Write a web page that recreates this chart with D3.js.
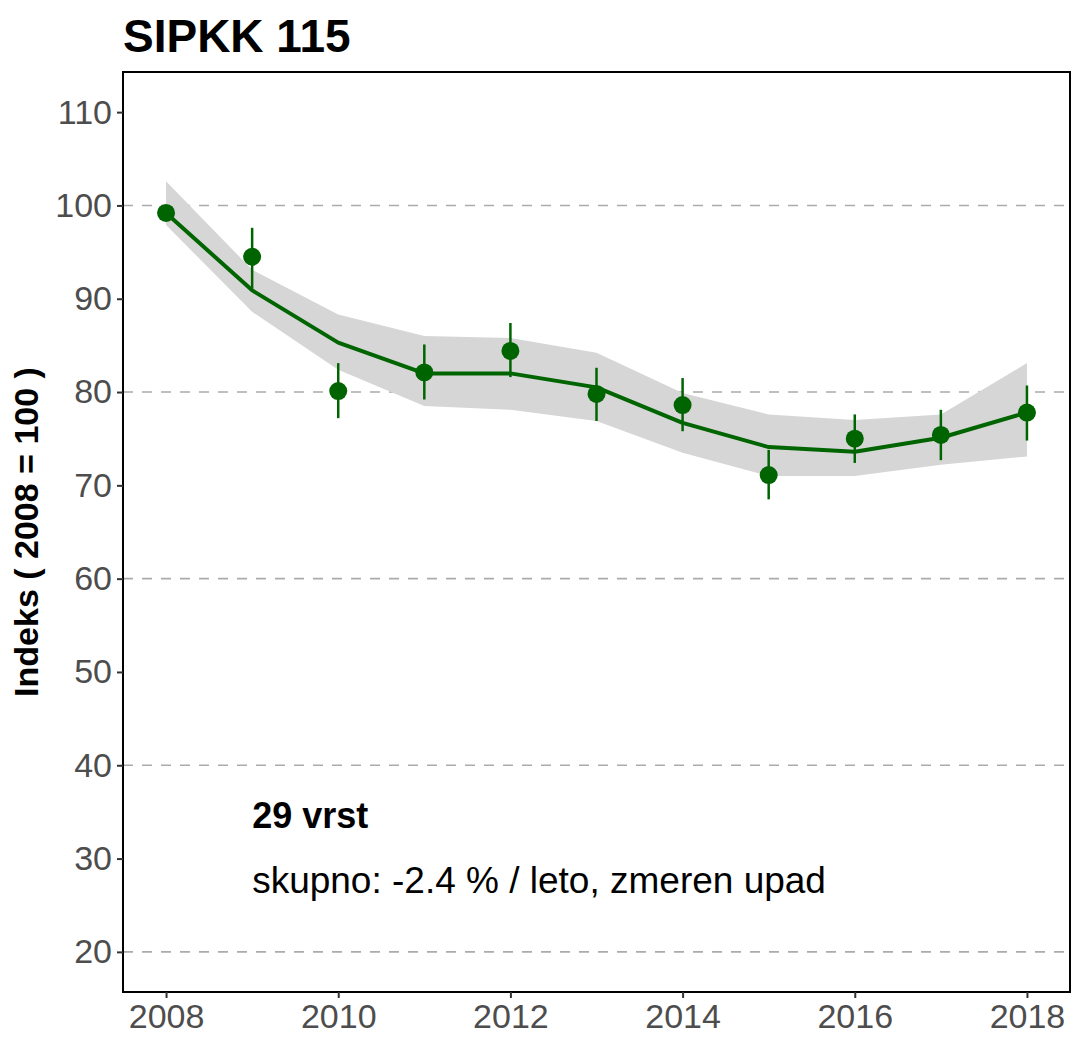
<!DOCTYPE html>
<html>
<head>
<meta charset="utf-8">
<script src="https://cdn.jsdelivr.net/npm/d3@7"></script>
<style>
  html, body { margin: 0; padding: 0; background: #fff; }
  svg { display: block; }
</style>
</head>
<body>
<svg id="chart" width="1074" height="1039"></svg>
<script>
// ---- data ----
const years = [2008, 2009, 2010, 2011, 2012, 2013, 2014, 2015, 2016, 2017, 2018];
const indexValues = [99.2, 94.5, 80.1, 82.1, 84.4, 79.8, 78.6, 71.1, 75.0, 75.4, 77.8];
const errLow  = [99.2, 91.1, 77.2, 79.2, 81.6, 76.9, 75.8, 68.5, 72.4, 72.7, 74.8];
const errHigh = [99.2, 97.6, 83.1, 85.1, 87.4, 82.6, 81.5, 73.8, 77.6, 78.1, 80.7];
const trendValues = [99.2, 90.9, 85.3, 82.0, 82.0, 80.5, 76.7, 74.1, 73.6, 75.1, 77.8];
const bandLow  = [97.9, 88.6, 82.4, 78.5, 78.1, 76.9, 73.5, 71.0, 71.0, 72.2, 73.1];
const bandHigh = [102.6, 93.1, 88.3, 86.0, 85.8, 84.2, 79.9, 77.6, 77.0, 77.6, 83.1];
const yTicks = [20, 30, 40, 50, 60, 70, 80, 90, 100, 110];
const gridValues = [20, 40, 60, 80, 100];
const xTicks = [2008, 2010, 2012, 2014, 2016, 2018];
const titleText = "SIPKK 115";
const yLabel = "Indeks ( 2008 = 100 )";
const noteBold = "29 vrst";
const noteText = "skupno: -2.4 % / leto, zmeren upad";

// ---- layout ----
const panel = { left: 123, top: 72, right: 1070, bottom: 992 };
const green = "#006400";
const font = "Liberation Sans, Arial, sans-serif";

const svg = d3.select("#chart");
const x = d3.scaleLinear().domain([2007.5, 2018.5]).range([panel.left, panel.right]);
const y = d3.scaleLinear().domain([15.7, 114.3]).range([panel.bottom, panel.top]);

const rows = years.map((yr, i) => ({
  year: yr, v: indexValues[i], lo: errLow[i], hi: errHigh[i],
  t: trendValues[i], bl: bandLow[i], bh: bandHigh[i]
}));

// gridlines
svg.append("g").selectAll("line").data(gridValues).join("line")
  .attr("x1", panel.left).attr("x2", panel.right)
  .attr("y1", d => y(d)).attr("y2", d => y(d))
  .attr("stroke", "#ababab").attr("stroke-width", 1.6)
  .attr("stroke-dasharray", "10,9");

// ribbon
svg.append("path").datum(rows)
  .attr("fill", "#d6d6d6")
  .attr("d", d3.area().x(d => x(d.year)).y0(d => y(d.bl)).y1(d => y(d.bh)));

// trend line
svg.append("path").datum(rows)
  .attr("fill", "none").attr("stroke", green).attr("stroke-width", 4)
  .attr("stroke-linejoin", "round")
  .attr("d", d3.line().x(d => x(d.year)).y(d => y(d.t)));

// error bars
svg.append("g").selectAll("line").data(rows).join("line")
  .attr("x1", d => x(d.year)).attr("x2", d => x(d.year))
  .attr("y1", d => y(d.lo)).attr("y2", d => y(d.hi))
  .attr("stroke", green).attr("stroke-width", 2.5);

// points
svg.append("g").selectAll("circle").data(rows).join("circle")
  .attr("cx", d => x(d.year)).attr("cy", d => y(d.v)).attr("r", 9)
  .attr("fill", green);

// panel border
svg.append("rect")
  .attr("x", panel.left).attr("y", panel.top)
  .attr("width", panel.right - panel.left).attr("height", panel.bottom - panel.top)
  .attr("fill", "none").attr("stroke", "#000").attr("stroke-width", 2);

// y axis
const yAxis = svg.append("g").attr("transform", `translate(${panel.left},0)`)
  .call(d3.axisLeft(y).tickValues(yTicks).tickSize(6).tickPadding(5).tickFormat(d3.format("d")));
yAxis.select(".domain").remove();
yAxis.selectAll(".tick line").attr("stroke", "#333").attr("stroke-width", 2);
yAxis.selectAll(".tick text").attr("fill", "#4d4d4d")
  .style("font-family", font).style("font-size", "34px");

// x axis
const xAxis = svg.append("g").attr("transform", `translate(0,${panel.bottom})`)
  .call(d3.axisBottom(x).tickValues(xTicks).tickSize(6).tickPadding(6).tickFormat(d3.format("d")));
xAxis.select(".domain").remove();
xAxis.selectAll(".tick line").attr("stroke", "#333").attr("stroke-width", 2);
xAxis.selectAll(".tick text").attr("fill", "#4d4d4d")
  .style("font-family", font).style("font-size", "34px");

// title
svg.append("text").attr("x", panel.left).attr("y", 52)
  .style("font-family", font).style("font-size", "46px").style("font-weight", "bold")
  .attr("fill", "#000").text(titleText);

// y label
svg.append("text")
  .attr("transform", `translate(38,${(panel.top + panel.bottom) / 2}) rotate(-90)`)
  .attr("text-anchor", "middle")
  .style("font-family", font).style("font-size", "34px").style("font-weight", "bold")
  .attr("fill", "#000").text(yLabel);

// annotations
svg.append("text").attr("x", x(2009.0)).attr("y", y(33.3))
  .style("font-family", font).style("font-size", "36px").style("font-weight", "bold")
  .attr("fill", "#000").text(noteBold);
svg.append("text").attr("x", x(2009.0)).attr("y", y(26.3))
  .style("font-family", font).style("font-size", "37px")
  .attr("fill", "#000").text(noteText);
</script>
</body>
</html>
